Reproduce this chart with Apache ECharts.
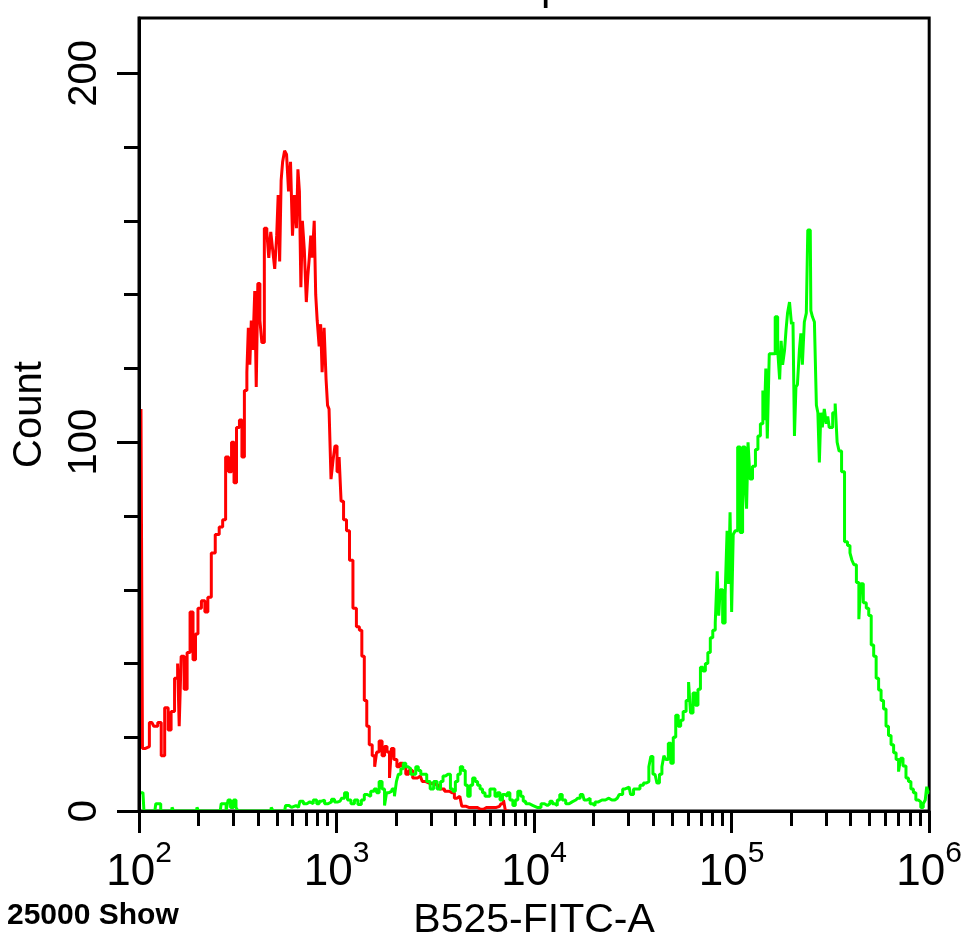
<!DOCTYPE html>
<html>
<head>
<meta charset="utf-8">
<script src="https://cdn.jsdelivr.net/npm/echarts@6/dist/echarts.min.js"></script>
<style>
  html, body { margin: 0; padding: 0; background: #fff; overflow: hidden; }
  #chart { width: 965px; height: 946px; }
</style>
</head>
<body>
<div id="chart"></div>
<script>
// x values are log10 of B525-FITC-A intensity (axis shows 10^2 .. 10^6)
const redLog = [2.010, 2.025, 2.040, 2.065, 2.085, 2.105, 2.120, 2.140, 2.155, 2.170,
	2.190, 2.201, 2.206, 2.221, 2.236, 2.251, 2.266, 2.281, 2.291, 2.306,
	2.326, 2.341, 2.356, 2.376, 2.396, 2.416, 2.431, 2.446, 2.461, 2.476,
	2.486, 2.501, 2.516, 2.526, 2.541, 2.551, 2.556, 2.566, 2.571, 2.581,
	2.591, 2.596, 2.607, 2.617, 2.627, 2.642, 2.652, 2.662, 2.672, 2.682,
	2.692, 2.702, 2.707, 2.717, 2.722, 2.732, 2.742, 2.752, 2.762, 2.772,
	2.782, 2.792, 2.802, 2.807, 2.817, 2.822, 2.832, 2.842, 2.852, 2.857,
	2.867, 2.872, 2.882, 2.892, 2.897, 2.907, 2.917, 2.922, 2.932, 2.942,
	2.952, 2.957, 2.967, 2.977, 2.987, 2.997, 3.008, 3.018, 3.028, 3.043,
	3.058, 3.073, 3.093, 3.108, 3.123, 3.133, 3.148, 3.158, 3.173, 3.188,
	3.198, 3.208, 3.223, 3.238, 3.248, 3.263, 3.273, 3.283, 3.298, 3.313,
	3.328, 3.343, 3.358, 3.373, 3.398, 3.424, 3.444, 3.459, 3.484, 3.509,
	3.534, 3.559, 3.584, 3.609, 3.624, 3.644, 3.669, 3.694, 3.729, 3.759,
	3.794, 3.825, 3.840, 3.850, 3.860, 3.875];
const redCount = [109, 17, 17.5, 24, 23, 24, 15, 28, 22, 27,
	36, 40, 23, 42, 33, 43, 54, 41, 48, 55,
	57, 54, 58, 70, 75, 77, 79, 96, 92, 100,
	89, 104, 106, 96, 114, 119, 131, 121, 133, 125,
	141, 115, 143, 133, 127, 158, 157, 150, 157, 152,
	147, 156, 167, 149, 171, 176, 179, 178, 168, 176,
	156, 167, 158, 174, 168, 142, 160, 152, 138, 145,
	150, 156, 150, 160, 140, 133, 126, 132, 119, 131,
	117, 110, 109, 90, 95, 99, 92, 96, 84, 79,
	76, 68, 55, 50, 49, 42, 30, 23, 18, 15,
	12, 16, 19, 15, 17.5, 16, 9, 17, 14, 12,
	13, 12, 10, 11, 9, 9.5, 8, 7.5, 7.5, 7,
	6, 5.4, 5, 3.5, 4, 1.3, 1, 1, 0.5, 1,
	1, 1.3, 2, 3, 0, 0];

const greenLog = [2.000, 2.020, 2.030, 2.080, 2.090, 2.105, 2.115, 2.165, 2.170, 2.180,
	2.291, 2.296, 2.306, 2.411, 2.421, 2.436, 2.446, 2.456, 2.471, 2.486,
	2.496, 2.506, 2.566, 2.667, 2.672, 2.687, 2.737, 2.747, 2.772, 2.782,
	2.807, 2.822, 2.842, 2.857, 2.872, 2.892, 2.907, 2.917, 2.932, 2.947,
	2.967, 2.982, 2.997, 3.018, 3.033, 3.048, 3.063, 3.083, 3.098, 3.118,
	3.133, 3.148, 3.163, 3.183, 3.198, 3.208, 3.223, 3.238, 3.248, 3.258,
	3.273, 3.288, 3.298, 3.308, 3.318, 3.333, 3.343, 3.358, 3.368, 3.383,
	3.393, 3.409, 3.419, 3.434, 3.449, 3.464, 3.484, 3.499, 3.519, 3.534,
	3.544, 3.559, 3.569, 3.584, 3.594, 3.609, 3.619, 3.634, 3.644, 3.659,
	3.669, 3.684, 3.694, 3.709, 3.719, 3.734, 3.744, 3.759, 3.769, 3.784,
	3.794, 3.810, 3.820, 3.835, 3.845, 3.860, 3.870, 3.885, 3.900, 3.910,
	3.925, 3.940, 3.950, 3.965, 3.985, 4.005, 4.025, 4.045, 4.060, 4.075,
	4.085, 4.100, 4.110, 4.125, 4.135, 4.150, 4.170, 4.185, 4.200, 4.221,
	4.246, 4.261, 4.276, 4.291, 4.301, 4.316, 4.336, 4.351, 4.371, 4.386,
	4.401, 4.416, 4.426, 4.436, 4.461, 4.481, 4.496, 4.511, 4.526, 4.546,
	4.561, 4.576, 4.586, 4.596, 4.607, 4.617, 4.627, 4.642, 4.652, 4.662,
	4.672, 4.687, 4.697, 4.712, 4.722, 4.737, 4.747, 4.762, 4.777, 4.787,
	4.797, 4.812, 4.822, 4.837, 4.847, 4.862, 4.872, 4.887, 4.897, 4.912,
	4.922, 4.932, 4.937, 4.947, 4.962, 4.972, 4.982, 4.987, 4.997, 5.003,
	5.013, 5.023, 5.038, 5.048, 5.063, 5.073, 5.078, 5.088, 5.098, 5.113,
	5.128, 5.138, 5.153, 5.163, 5.168, 5.178, 5.183, 5.198, 5.213, 5.228,
	5.238, 5.248, 5.253, 5.263, 5.273, 5.278, 5.288, 5.298, 5.308, 5.313,
	5.323, 5.328, 5.338, 5.348, 5.353, 5.363, 5.373, 5.383, 5.388, 5.398,
	5.404, 5.414, 5.424, 5.434, 5.439, 5.449, 5.454, 5.464, 5.474, 5.484,
	5.489, 5.499, 5.504, 5.519, 5.529, 5.539, 5.549, 5.564, 5.579, 5.594,
	5.604, 5.614, 5.624, 5.639, 5.649, 5.659, 5.674, 5.689, 5.699, 5.714,
	5.724, 5.739, 5.749, 5.764, 5.774, 5.789, 5.799, 5.815, 5.825, 5.840,
	5.850, 5.860, 5.875, 5.890, 5.900, 5.915, 5.925, 5.940, 5.950, 5.965,
	5.975, 5.985, 5.990, 6.000];
const greenCount = [5, 5, 0, 0, 2, 2, 0, 0, 1, 0,
	0, 1, 0, 0, 2, 2, 0, 3, 1, 3,
	1, 0, 0, 0, 1, 0, 0, 1.5, 1, 1.5,
	1, 2.7, 2, 2.5, 2, 3, 2, 2.7, 3, 2,
	2.5, 3.2, 2.5, 2.7, 3.5, 5, 3, 2, 3, 1.8,
	3, 4.5, 4, 5.4, 6, 5, 8, 6, 1.5, 5,
	5.4, 6, 4, 8, 10, 11.5, 13, 12, 11.5, 10,
	10, 12, 11, 10, 10, 8, 6, 8, 6, 8,
	9.5, 10, 10, 6, 5.4, 8, 10, 12, 11, 7,
	4, 7, 9, 8, 7, 6, 5, 4, 4, 6,
	6, 4, 5, 3, 4.5, 4, 5, 3, 1.5, 3,
	5.4, 4, 2.7, 2, 1.5, 1, 1, 2, 1.5, 2,
	2.7, 2, 1.5, 3, 4.5, 3, 2, 2.5, 3, 3.5,
	4.5, 3, 3.5, 2, 1.5, 2.5, 3, 3, 3.5, 3,
	3, 3.5, 3.5, 4.5, 6, 6.5, 4.5, 6, 6, 7,
	7.6, 8, 12, 14.8, 10, 9.7, 7.6, 10, 12, 15,
	14, 18.4, 13, 20, 26, 23, 24.6, 27, 30, 35,
	26.6, 32, 28.7, 33, 39, 38, 40, 43, 47, 49,
	51, 65, 53, 60, 51, 58.5, 76, 61.6, 81, 54,
	75, 76, 98.7, 75.5, 98.7, 88, 82, 100, 90, 93.5,
	98, 101.7, 105, 114, 106, 120, 101, 124, 124, 134,
	125, 117, 127.5, 121, 125, 130.5, 135, 138, 132, 132.6,
	101.7, 115, 115.6, 125, 129.5, 121, 132.6, 135, 157.5, 157.5,
	135.7, 134, 132.6, 110, 108, 94.5, 108, 104, 109, 105,
	107, 104, 104, 108, 110.5, 100, 97.6, 92, 73, 72,
	70, 68, 66.8, 62, 52, 61.6, 56.5, 55, 53, 45,
	42, 36, 32.8, 30, 27.7, 23, 20.5, 18, 15.8, 14,
	10.7, 14.3, 12.2, 9, 8, 6, 5, 3, 2.5, 1,
	2, 3, 6.6, 5];

const xMajorTicks = [2, 3, 4, 5, 6];
const yMajorTicks = [0, 100, 200];
const yMinorTicks = [20, 40, 60, 80, 120, 140, 160, 180];
const minorMultipliers = [2, 3, 4, 5, 6, 7, 8, 9];

const xMinorTicks = [];
xMajorTicks.slice(0, -1).forEach(d => {
	minorMultipliers.forEach(m => xMinorTicks.push(d + Math.log10(m)));
});

const FONT = "'Liberation Sans', Arial, sans-serif";
const chart = echarts.init(document.getElementById('chart'), null, { renderer: 'canvas' });

chart.setOption({
	animation: false,
	backgroundColor: '#fff',
	textStyle: { fontFamily: FONT, color: '#000' },
	grid: {
		left: 139,
		right: 28,
		top: 18,
		bottom: 131,
		show: true,
		borderColor: '#000',
		borderWidth: 3,
		backgroundColor: '#fff'
	},
	graphic: [
		{
			type: 'text',
			left: 7,
			top: 901,
			style: {
				text: '25000 Show',
				font: 'bold 30px ' + FONT,
				fill: '#000'
			}
		},
		{
			// descender of the cut-off title at the top edge
			type: 'text',
			x: 541,
			y: 8,
			style: {
				text: 'p',
				font: '42px ' + FONT,
				fill: '#000',
				align: 'left',
				verticalAlign: 'bottom'
			}
		}
	],
	xAxis: [
		{
			type: 'value',
			min: 2,
			max: 6,
			position: 'bottom',
			z: 5,
			name: 'B525-FITC-A',
			nameLocation: 'middle',
			nameGap: 86,
			nameTextStyle: { fontSize: 41, fontFamily: FONT, color: '#000' },
			axisLine: { show: true, onZero: false, lineStyle: { color: '#000', width: 3 } },
			axisTick: { show: true, inside: false, length: 22, customValues: xMajorTicks, lineStyle: { color: '#000', width: 3 } },
			axisLabel: {
				show: true,
				customValues: xMajorTicks,
				margin: 28,
				formatter: v => '{b|10}{s|' + Math.round(v) + '}',
				rich: {
					b: { fontSize: 44, fontFamily: FONT, color: '#000', lineHeight: 56, verticalAlign: 'bottom' },
					s: { fontSize: 30, fontFamily: FONT, color: '#000', lineHeight: 30, verticalAlign: 'top' }
				}
			},
			splitLine: { show: false }
		},
		{
			type: 'value',
			min: 2,
			max: 6,
			position: 'bottom',
			z: 5,
			axisLine: { show: false },
			axisTick: { show: true, inside: false, length: 15, customValues: xMinorTicks, lineStyle: { color: '#000', width: 3 } },
			axisLabel: { show: false },
			splitLine: { show: false }
		}
	],
	yAxis: [
		{
			type: 'value',
			min: 0,
			max: 215,
			position: 'left',
			z: 5,
			name: 'Count',
			nameLocation: 'middle',
			nameRotate: 90,
			nameGap: 89,
			nameTextStyle: { fontSize: 40, fontFamily: FONT, color: '#000' },
			axisLine: { show: true, onZero: false, lineStyle: { color: '#000', width: 3 } },
			axisTick: { show: true, inside: false, length: 22, customValues: yMajorTicks, lineStyle: { color: '#000', width: 3 } },
			axisLabel: {
				show: true,
				customValues: yMajorTicks,
				rotate: 90,
				margin: 34,
				fontSize: 40,
				fontFamily: FONT,
				color: '#000'
			},
			splitLine: { show: false }
		},
		{
			type: 'value',
			min: 0,
			max: 215,
			position: 'left',
			z: 5,
			axisLine: { show: false },
			axisTick: { show: true, inside: false, length: 15, customValues: yMinorTicks, lineStyle: { color: '#000', width: 3 } },
			axisLabel: { show: false },
			splitLine: { show: false }
		}
	],
	series: [
		{
			name: 'unstained',
			type: 'line',
			step: 'middle',
			showSymbol: false,
			symbol: 'none',
			lineStyle: { color: '#ff0000', width: 3 },
			data: redLog.map((x, i) => [x, redCount[i]])
		},
		{
			name: 'stained',
			type: 'line',
			step: 'middle',
			showSymbol: false,
			symbol: 'none',
			lineStyle: { color: '#00ff00', width: 3 },
			data: greenLog.map((x, i) => [x, greenCount[i]])
		}
	]
});
</script>
</body>
</html>
